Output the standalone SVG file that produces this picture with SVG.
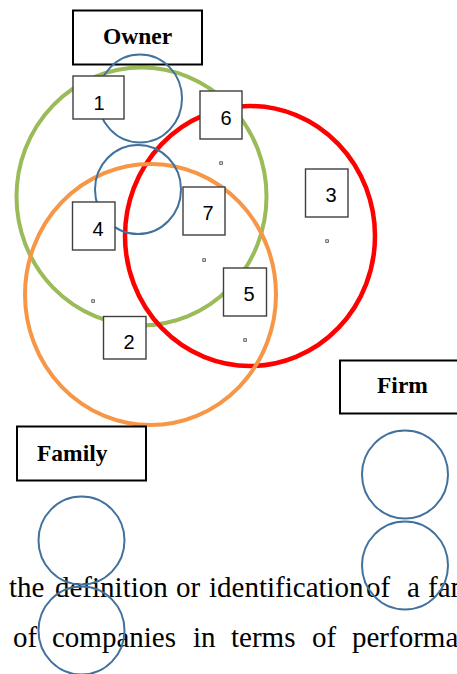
<svg xmlns="http://www.w3.org/2000/svg" width="457" height="674" viewBox="0 0 457 674">
<style>
.big{fill:none;}
.blue{fill:none;stroke:#41719C;stroke-width:2;}
.lbl{fill:#fff;stroke:#000;stroke-width:2;}
.num{fill:#fff;stroke:#3f3f3f;stroke-width:1.4;}
.t{font-family:"Liberation Serif","Times New Roman",serif;font-weight:bold;font-size:23.5px;fill:#000;}
.d{font-family:"Liberation Sans",Arial,sans-serif;font-size:20px;fill:#000;text-anchor:middle;}
.body{font-family:"Liberation Serif","Times New Roman",serif;font-size:29px;fill:#000;}
.dot{fill:#fff;stroke:#333;stroke-width:0.8;}
</style>
<rect width="457" height="674" fill="#fff"/>
<g id="body-text">
<text class="body" y="597"><tspan x="9">the</tspan><tspan x="55">definition</tspan><tspan x="176">or</tspan><tspan x="209">identification</tspan><tspan x="366">of</tspan><tspan x="407">a</tspan><tspan x="428">family</tspan></text>
<text class="body" y="647"><tspan x="13">of</tspan><tspan x="52">companies</tspan><tspan x="193">in</tspan><tspan x="231">terms</tspan><tspan x="312">of</tspan><tspan x="352">performance</tspan></text>
</g>
<g id="sets">
<ellipse id="owner-set" class="big" cx="141.5" cy="196.5" rx="125" ry="129" stroke="#9BBB59" stroke-width="4"/>
<ellipse id="firm-set" class="big" cx="250" cy="236" rx="125" ry="130" stroke="#FF0000" stroke-width="4.5"/>
<ellipse id="family-set" class="big" cx="150.5" cy="294.5" rx="125.5" ry="130.5" stroke="#F79646" stroke-width="4"/>
</g>
<g id="owner"><rect class="lbl" x="73" y="10.5" width="129" height="54"/><text class="t" x="103" y="44">Owner</text></g>
<g id="firm"><rect class="lbl" x="340" y="360.5" width="130" height="53"/><text class="t" x="377" y="393">Firm</text></g>
<g id="family"><rect class="lbl" x="17" y="426.5" width="129" height="54"/><text class="t" x="37" y="461">Family</text></g>
<g id="connectors">
<ellipse class="blue" cx="140" cy="98.5" rx="42" ry="44"/>
<ellipse class="blue" cx="138" cy="189.5" rx="43" ry="44.5"/>
<ellipse class="blue" cx="81.5" cy="540.5" rx="43" ry="44"/>
<ellipse class="blue" cx="81.5" cy="630.5" rx="43" ry="44"/>
<ellipse class="blue" cx="405" cy="474.5" rx="43" ry="44"/>
<ellipse class="blue" cx="405" cy="565.5" rx="43" ry="44"/>
</g>
<g id="n1"><rect class="num" x="73" y="76" width="51" height="43"/><text class="d" x="99" y="110">1</text></g>
<g id="n6"><rect class="num" x="200" y="91" width="42" height="48"/><text class="d" x="226" y="125">6</text></g>
<g id="n7"><rect class="num" x="183" y="187" width="42" height="48"/><text class="d" x="208" y="220">7</text></g>
<g id="n4"><rect class="num" x="72.5" y="202" width="42.5" height="48"/><text class="d" x="98" y="236">4</text></g>
<g id="n3"><rect class="num" x="305.5" y="169" width="42.5" height="48"/><text class="d" x="331" y="202">3</text></g>
<g id="n5"><rect class="num" x="223.5" y="268" width="43" height="48"/><text class="d" x="249" y="301">5</text></g>
<g id="n2"><rect class="num" x="103.5" y="316.5" width="42.5" height="42.5"/><text class="d" x="129" y="349">2</text></g>
<g id="dots">
<rect class="dot" x="219.8" y="161.8" width="2.5" height="2.5"/>
<rect class="dot" x="325.8" y="239.8" width="2.5" height="2.5"/>
<rect class="dot" x="202.8" y="258.8" width="2.5" height="2.5"/>
<rect class="dot" x="91.8" y="299.8" width="2.5" height="2.5"/>
<rect class="dot" x="243.8" y="338.8" width="2.5" height="2.5"/>
</g>
</svg>
